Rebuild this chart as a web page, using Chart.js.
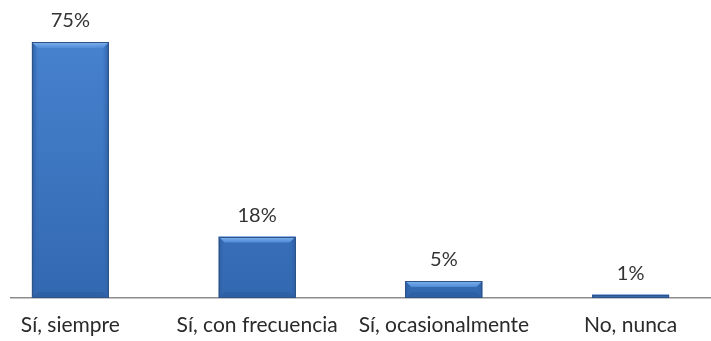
<!DOCTYPE html>
<html>
<head>
<meta charset="utf-8">
<script src="https://cdn.jsdelivr.net/npm/chart.js@4/dist/chart.umd.min.js"></script>
<style>
  html, body { margin: 0; padding: 0; background: #ffffff; }
  body { width: 711px; height: 341px; position: relative; overflow: hidden; }
  #frame { position: absolute; left: 10px; top: 0; width: 701px; height: 341px; overflow: hidden; }
  #wrap { position: absolute; left: -33px; top: 0; width: 747px; height: 341px; }
</style>
</head>
<body>
<div id="frame"><div id="wrap"><canvas id="c"></canvas></div></div>
<script>
const categories = ["Sí, siempre", "Sí, con frecuencia", "Sí, ocasionalmente", "No, nunca"];
const values = [75, 18, 5, 1];
const valueLabels = ["75%", "18%", "5%", "1%"];

const FONT = "Lato, 'Open Sans', sans-serif";

// Excel-style bevel on each bar, drawn from the bar element geometry
const bevelPlugin = {
  id: 'bevel',
  afterDatasetsDraw(chart) {
    const ctx = chart.ctx;
    const meta = chart.getDatasetMeta(0);
    ctx.save();
    meta.data.forEach((bar, i) => {
      const w = bar.width;
      const x0 = bar.x - w / 2, x1 = bar.x + w / 2;
      const top = bar.y, bot = bar.base;
      const h = bot - top;
      const b = Math.min(6, h / 2);

      // left edge
      let g = ctx.createLinearGradient(x0, 0, x0 + b, 0);
      g.addColorStop(0, '#2c5c9e');
      g.addColorStop(1, 'rgba(55,110,185,0.15)');
      ctx.fillStyle = g;
      ctx.beginPath();
      ctx.moveTo(x0, top); ctx.lineTo(x0 + b, top + b); ctx.lineTo(x0 + b, bot - b); ctx.lineTo(x0, bot);
      ctx.closePath(); ctx.fill();

      // right edge
      g = ctx.createLinearGradient(x1, 0, x1 - b, 0);
      g.addColorStop(0, '#2c5c9e');
      g.addColorStop(1, 'rgba(55,110,185,0.15)');
      ctx.fillStyle = g;
      ctx.beginPath();
      ctx.moveTo(x1, top); ctx.lineTo(x1 - b, top + b); ctx.lineTo(x1 - b, bot - b); ctx.lineTo(x1, bot);
      ctx.closePath(); ctx.fill();

      // top bevel highlight
      g = ctx.createLinearGradient(0, top, 0, top + b);
      g.addColorStop(0, '#80b3ee');
      g.addColorStop(1, '#508bd6');
      ctx.fillStyle = g;
      ctx.beginPath();
      ctx.moveTo(x0, top); ctx.lineTo(x1, top); ctx.lineTo(x1 - b, top + b); ctx.lineTo(x0 + b, top + b);
      ctx.closePath(); ctx.fill();

      // bottom shade
      ctx.fillStyle = 'rgba(40,80,140,0.3)';
      ctx.beginPath();
      ctx.moveTo(x0, bot); ctx.lineTo(x1, bot); ctx.lineTo(x1 - b, bot - b); ctx.lineTo(x0 + b, bot - b);
      ctx.closePath(); ctx.fill();

      // outline
      ctx.strokeStyle = '#2d5388';
      ctx.lineWidth = 1;
      ctx.strokeRect(Math.round(x0) + 0.5, Math.round(top) + 0.5, Math.round(w) - 1, Math.round(h) - 1);

      // value label above the bar
      ctx.fillStyle = '#333333';
      ctx.font = '20px ' + FONT;
      ctx.textAlign = 'center';
      ctx.textBaseline = 'middle';
      ctx.fillText(valueLabels[i], bar.x, top - 21);
    });
    ctx.restore();
  }
};

new Chart(document.getElementById('c'), {
  type: 'bar',
  data: {
    labels: categories,
    datasets: [{
      data: values,
      backgroundColor: (ctx) => {
        const area = ctx.chart.chartArea;
        if (!area) return '#3f78c4';
        const g = ctx.chart.ctx.createLinearGradient(0, area.top, 0, area.bottom);
        g.addColorStop(0, '#4782cf');
        g.addColorStop(1, '#3268b0');
        return g;
      },
      borderWidth: 0,
      barPercentage: 0.412,
      categoryPercentage: 1
    }]
  },
  options: {
    responsive: true,
    maintainAspectRatio: false,
    animation: false,
    layout: { padding: { top: 42, bottom: 0, left: 0, right: 0 } },
    plugins: { legend: { display: false }, tooltip: { enabled: false } },
    scales: {
      y: { display: false, min: 0, max: 75 },
      x: {
        grid: { display: false, drawTicks: false },
        border: { display: true, color: '#8c8c8c', width: 1.5 },
        ticks: { color: '#2a2a2a', font: { family: FONT, size: 21 }, padding: 15, maxRotation: 0 },
        afterFit(scale) { scale.height = 43; }
      }
    }
  },
  plugins: [bevelPlugin]
});
</script>
</body>
</html>
